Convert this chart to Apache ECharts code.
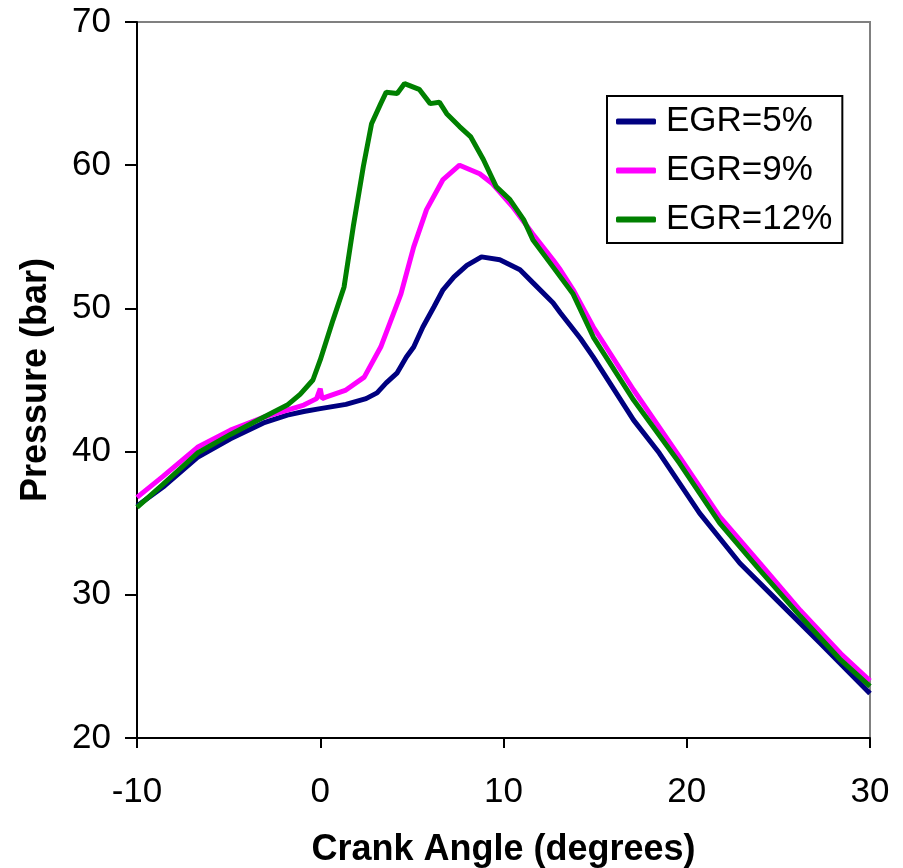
<!DOCTYPE html>
<html>
<head>
<meta charset="utf-8">
<script src="https://cdn.jsdelivr.net/npm/echarts@6/dist/echarts.min.js"></script>
<style>html,body{margin:0;padding:0;background:#fff;}#c{width:903px;height:868px;}</style>
</head>
<body>
<div id="c"></div>
<script>
var seriesNames = ['EGR=5%', 'EGR=9%', 'EGR=12%'];
var xTicks = [-10, 0, 10, 20, 30];
var yTicks = [20, 30, 40, 50, 60, 70];

var angle5 = [-10, -8.5, -6.7, -4.9, -3.1, -1.8, -0.9, 0, 1.4, 2.5, 3.1, 3.6, 4.2, 4.7, 5.1, 5.6, 6.2, 6.7, 7.3, 8.0, 8.8, 9.8, 10.9, 11.6, 12.7, 13.1, 14.2, 14.9, 16.0, 17.1, 18.5, 20.7, 22.9, 25.1, 27.3, 30];
var p5 = [36.2, 37.6, 39.6, 40.9, 42.0, 42.55, 42.8, 43.0, 43.3, 43.7, 44.1, 44.8, 45.5, 46.6, 47.3, 48.7, 50.1, 51.3, 52.2, 53.0, 53.6, 53.4, 52.7, 51.8, 50.4, 49.7, 47.9, 46.6, 44.4, 42.2, 39.9, 35.7, 32.2, 29.4, 26.6, 23.1];

var angle9 = [-10, -8.6, -6.7, -4.9, -3.1, -1.8, -0.9, -0.2, 0.0, 0.1, 0.3, 1.4, 2.4, 3.3, 4.4, 5.1, 5.8, 6.7, 7.6, 8.7, 9.4, 10.5, 11.6, 12.7, 13.1, 13.8, 14.9, 17.1, 19.6, 21.8, 24.0, 26.2, 28.4, 30];
var p9 = [36.8, 38.25, 40.3, 41.5, 42.4, 42.9, 43.25, 43.7, 44.4, 43.7, 43.8, 44.3, 45.2, 47.3, 51.0, 54.3, 56.9, 59.0, 60.0, 59.4, 58.7, 57.1, 55.2, 53.4, 52.7, 51.3, 48.7, 44.3, 39.65, 35.45, 32.2, 28.9, 25.9, 24.0];

var angle12 = [-10, -8.6, -6.7, -4.9, -3.1, -1.8, -1.1, -0.4, 0, 0.7, 1.3, 1.8, 2.35, 2.8, 3.3, 3.6, 4.2, 4.6, 5.4, 6.0, 6.5, 6.9, 7.6, 8.2, 8.9, 9.6, 10.35, 11.1, 11.6, 12.7, 13.8, 14.9, 17.1, 19.6, 21.8, 24.0, 26.2, 28.4, 30];
var p12 = [36.1, 37.7, 39.9, 41.2, 42.4, 43.25, 44.0, 45.0, 46.4, 49.2, 51.5, 55.7, 59.9, 62.9, 64.3, 65.1, 65.0, 65.7, 65.3, 64.3, 64.4, 63.6, 62.7, 62.0, 60.4, 58.5, 57.6, 56.2, 54.8, 52.9, 51.0, 48.0, 43.6, 39.2, 35.0, 31.7, 28.5, 25.45, 23.6];

function pairs(xs, ys) { return xs.map(function (x, i) { return [x, ys[i]]; }); }

var colors = ['#000080', '#FF00FF', '#008000'];
var FONT = 'Liberation Sans, Arial, Helvetica, sans-serif';

var chart = echarts.init(document.getElementById('c'), null, { renderer: 'canvas' });
chart.setOption({
  animation: false,
  backgroundColor: '#ffffff',
  textStyle: { fontFamily: FONT },
  grid: { left: 137, top: 22, right: 33, bottom: 130, containLabel: false, outerBoundsMode: 'none', show: true, borderColor: '#808080', borderWidth: 2, backgroundColor: 'transparent' },
  legend: {
    orient: 'vertical',
    left: 607, top: 96,
    padding: [8, 10, 6, 9],
    itemGap: 14,
    itemWidth: 40, itemHeight: 6,
    icon: 'roundRect',
    borderColor: '#000', borderWidth: 2,
    backgroundColor: '#fff',
    textStyle: { fontSize: 35, color: '#000', fontFamily: FONT, padding: [0, 0, 0, 5] },
    data: seriesNames
  },
  xAxis: {
    type: 'value',
    min: xTicks[0], max: xTicks[xTicks.length - 1], interval: 10,
    name: 'Crank Angle (degrees)',
    nameLocation: 'middle', nameGap: 94,
    nameTextStyle: { fontSize: 36, fontWeight: 'bold', color: '#000', fontFamily: FONT },
    axisLine: { show: true, onZero: false, lineStyle: { color: '#000', width: 2 } },
    axisTick: { show: true, inside: false, length: 10, lineStyle: { color: '#000', width: 2 } },
    axisLabel: { fontSize: 35, color: '#000', margin: 37, fontFamily: FONT },
    splitLine: { show: false }
  },
  yAxis: {
    type: 'value',
    min: yTicks[0], max: yTicks[yTicks.length - 1], interval: 10,
    name: 'Pressure (bar)',
    nameLocation: 'middle', nameGap: 83,
    nameTextStyle: { fontSize: 36, fontWeight: 'bold', color: '#000', fontFamily: FONT },
    axisLine: { show: true, onZero: false, lineStyle: { color: '#000', width: 2 } },
    axisTick: { show: true, inside: false, length: 12, lineStyle: { color: '#000', width: 2 } },
    axisLabel: { fontSize: 35, color: '#000', margin: 26, fontFamily: FONT },
    splitLine: { show: false }
  },
  series: [
    { name: seriesNames[0], type: 'line', data: pairs(angle5, p5), symbol: 'none', smooth: false, color: colors[0], lineStyle: { width: 5, color: colors[0] } },
    { name: seriesNames[1], type: 'line', data: pairs(angle9, p9), symbol: 'none', smooth: false, color: colors[1], lineStyle: { width: 5, color: colors[1] } },
    { name: seriesNames[2], type: 'line', data: pairs(angle12, p12), symbol: 'none', smooth: false, color: colors[2], lineStyle: { width: 5, color: colors[2] } }
  ]
});
</script>
</body>
</html>
